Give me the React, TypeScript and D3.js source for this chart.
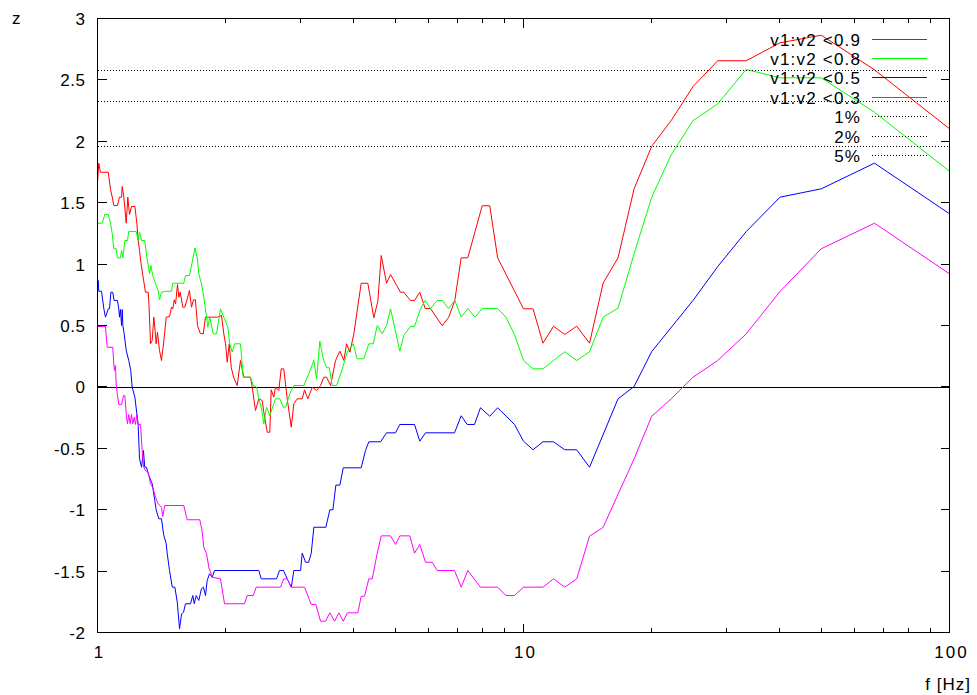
import React from "react";
import * as d3 from "d3";

const W = 977;
const H = 695;
const PLOT = { left: 97.5, right: 949.5, top: 18.5, bottom: 632.5 };

const seriesNames = ["v1:v2 <0.9", "v1:v2 <0.8", "v1:v2 <0.5", "v1:v2 <0.3"];
const seriesColors = ["#ff0000", "#00ff00", "#0000ff", "#ff00ff"];
const levelNames = ["1%", "2%", "5%"];
const levelValues = [2.576, 2.326, 1.96];
const yTickValues = [-2, -1.5, -1, -0.5, 0, 0.5, 1, 1.5, 2, 2.5, 3];
const xMajorTicks = [1, 10, 100];
const xMinorTicks = [2, 3, 4, 5, 6, 7, 8, 9, 20, 30, 40, 50, 60, 70, 80, 90];

// [frequency Hz, z]
const red: [number, number][] = [
  [1.0, 1.667], [1.007, 1.822], [1.016, 1.748], [1.06, 1.748], [1.073, 1.605], [1.083, 1.545],
  [1.092, 1.477], [1.114, 1.477], [1.126, 1.545], [1.139, 1.545], [1.143, 1.632], [1.153, 1.545],
  [1.168, 1.333], [1.178, 1.545], [1.189, 1.404], [1.202, 1.469], [1.224, 1.469], [1.237, 1.333],
  [1.246, 1.192], [1.255, 1.111], [1.267, 0.989], [1.278, 0.907], [1.296, 0.771], [1.315, 0.771],
  [1.32, 0.69], [1.332, 0.351], [1.344, 0.378], [1.356, 0.568], [1.363, 0.486], [1.373, 0.351],
  [1.383, 0.445], [1.398, 0.296], [1.413, 0.215], [1.429, 0.351], [1.45, 0.568], [1.476, 0.573],
  [1.492, 0.649], [1.502, 0.636], [1.514, 0.709], [1.525, 0.677], [1.541, 0.834], [1.552, 0.73],
  [1.564, 0.771], [1.586, 0.649], [1.603, 0.649], [1.624, 0.717], [1.644, 0.785], [1.662, 0.649],
  [1.68, 0.709], [1.698, 0.709], [1.717, 0.5], [1.742, 0.437], [1.771, 0.432], [1.793, 0.568],
  [1.91, 0.568], [1.955, 0.581], [1.979, 0.432], [1.998, 0.351], [2.016, 0.201], [2.038, 0.351],
  [2.06, 0.16], [2.089, 0.074], [2.128, 0.011], [2.166, 0.215], [2.205, 0.079], [2.286, 0.079],
  [2.308, -0.002], [2.349, -0.192], [2.391, -0.097], [2.436, -0.111], [2.457, -0.206], [2.503, -0.369],
  [2.538, -0.369], [2.557, -0.024], [2.593, -0.084], [2.617, -0.002], [2.664, -0.029], [2.699, 0.147],
  [2.737, 0.147], [2.788, -0.097], [2.85, -0.328], [2.89, -0.138], [2.944, -0.097], [3.024, -0.097],
  [3.062, -0.024], [3.117, -0.097], [3.193, -0.002], [3.268, -0.029], [3.339, 0.011], [3.399, 0.079],
  [3.449, 0.079], [3.525, 0.011], [3.621, 0.215], [3.706, 0.291], [3.787, 0.215], [3.843, 0.351],
  [3.912, 0.283], [3.996, 0.427], [4.07, 0.622], [4.159, 0.844], [4.311, 0.844], [4.453, 0.563],
  [4.551, 0.698], [4.635, 1.07], [4.77, 0.844], [4.874, 0.915], [5.144, 0.771], [5.236, 0.771],
  [5.429, 0.704], [5.548, 0.704], [5.709, 0.771], [5.878, 0.638], [6.049, 0.638], [6.444, 0.498],
  [6.678, 0.568], [6.898, 0.704], [7.141, 1.051], [7.4, 1.051], [8.0, 1.475], [8.333, 1.475],
  [8.696, 1.051], [10.0, 0.636], [10.53, 0.636], [11.11, 0.356], [11.76, 0.494], [12.5, 0.427],
  [13.33, 0.494], [14.29, 0.356], [15.38, 0.846], [16.67, 1.051], [18.18, 1.613], [20.0, 1.96],
  [22.22, 2.169], [25.0, 2.446], [28.57, 2.656], [33.33, 2.656], [40.0, 2.802], [50.0, 2.864],
  [66.67, 2.582], [100.0, 2.102],
];

const green: [number, number][] = [
  [1.0, 1.333], [1.026, 1.333], [1.04, 1.404], [1.06, 1.404], [1.073, 1.333], [1.083, 1.247],
  [1.092, 1.125], [1.106, 1.125], [1.114, 1.051], [1.132, 1.051], [1.139, 1.111], [1.147, 1.051],
  [1.159, 1.192], [1.176, 1.192], [1.184, 1.265], [1.233, 1.265], [1.246, 1.192], [1.255, 1.26],
  [1.269, 1.192], [1.291, 1.192], [1.306, 1.056], [1.325, 0.921], [1.334, 0.989], [1.348, 0.907],
  [1.368, 0.84], [1.388, 0.785], [1.398, 0.709], [1.413, 0.771], [1.444, 0.779], [1.492, 0.779],
  [1.502, 0.844], [1.594, 0.844], [1.609, 0.907], [1.644, 0.907], [1.694, 1.131], [1.715, 1.05],
  [1.729, 0.921], [1.754, 0.84], [1.776, 0.73], [1.803, 0.568], [1.815, 0.486], [1.835, 0.568],
  [1.869, 0.432], [1.903, 0.432], [1.944, 0.636], [1.979, 0.568], [2.023, 0.486], [2.044, 0.351],
  [2.071, 0.283], [2.097, 0.351], [2.166, 0.351], [2.198, 0.079], [2.286, 0.079], [2.32, 0.011],
  [2.362, -0.002], [2.391, -0.097], [2.423, -0.165], [2.457, -0.3], [2.493, -0.165], [2.538, -0.233],
  [2.617, -0.097], [2.679, -0.097], [2.729, -0.165], [2.763, -0.165], [2.828, -0.056], [2.89, 0.011],
  [3.051, 0.011], [3.134, 0.107], [3.22, 0.215], [3.268, 0.066], [3.326, 0.372], [3.388, 0.229],
  [3.449, 0.156], [3.5, 0.156], [3.557, 0.011], [3.641, 0.011], [3.755, 0.147], [3.858, 0.283],
  [3.983, 0.351], [4.07, 0.229], [4.218, 0.229], [4.334, 0.351], [4.439, 0.351], [4.536, 0.5],
  [4.66, 0.432], [4.77, 0.5], [4.874, 0.636], [5.124, 0.291], [5.236, 0.419], [5.429, 0.492],
  [5.548, 0.492], [5.731, 0.636], [5.878, 0.704], [6.049, 0.638], [6.272, 0.704], [6.454, 0.704],
  [6.667, 0.638], [6.898, 0.704], [7.141, 0.568], [7.4, 0.638], [7.692, 0.568], [8.0, 0.638],
  [8.696, 0.638], [9.091, 0.568], [9.524, 0.427], [10.0, 0.215], [10.53, 0.147], [11.11, 0.147],
  [11.76, 0.215], [12.5, 0.286], [13.33, 0.215], [14.29, 0.286], [15.38, 0.568], [16.67, 0.641],
  [18.18, 1.084], [20.0, 1.545], [22.22, 1.89], [25.0, 2.169], [28.57, 2.305], [33.33, 2.585],
  [40.0, 2.517], [50.0, 2.517], [66.67, 2.237], [100.0, 1.756],
];

const blue: [number, number][] = [
  [1.0, 0.84], [1.004, 0.866], [1.007, 0.779], [1.022, 0.779], [1.035, 0.636], [1.044, 0.568],
  [1.06, 0.636], [1.067, 0.636], [1.075, 0.771], [1.086, 0.771], [1.094, 0.704], [1.114, 0.704],
  [1.122, 0.636], [1.126, 0.568], [1.132, 0.63], [1.139, 0.5], [1.143, 0.63], [1.147, 0.5],
  [1.155, 0.432], [1.168, 0.296], [1.184, 0.215], [1.197, 0.134], [1.206, -0.002], [1.224, -0.084],
  [1.237, -0.219], [1.246, -0.314], [1.255, -0.586], [1.269, -0.654], [1.282, -0.518], [1.291, -0.654],
  [1.303, -0.654], [1.32, -0.722], [1.344, -0.789], [1.363, -0.925], [1.373, -1.001], [1.393, -1.074],
  [1.413, -1.074], [1.431, -1.21], [1.45, -1.278], [1.458, -1.359], [1.476, -1.495], [1.498, -1.631],
  [1.519, -1.631], [1.539, -1.753], [1.558, -1.97], [1.575, -1.848], [1.592, -1.835], [1.609, -1.766],
  [1.653, -1.766], [1.674, -1.699], [1.687, -1.766], [1.705, -1.699], [1.729, -1.739], [1.754, -1.644],
  [1.773, -1.631], [1.793, -1.699], [1.809, -1.577], [1.832, -1.522], [1.859, -1.55], [1.882, -1.495],
  [2.391, -1.495], [2.423, -1.563], [2.632, -1.563], [2.675, -1.495], [2.733, -1.495], [2.788, -1.563],
  [2.85, -1.631], [2.89, -1.495], [2.997, -1.495], [3.024, -1.354], [3.079, -1.428], [3.13, -1.428],
  [3.175, -1.354], [3.22, -1.143], [3.436, -1.143], [3.511, -1.001], [3.569, -1.001], [3.627, -0.8],
  [3.706, -0.8], [3.775, -0.659], [4.159, -0.659], [4.257, -0.518], [4.334, -0.447], [4.618, -0.447],
  [4.77, -0.374], [5.007, -0.374], [5.124, -0.306], [5.548, -0.306], [5.709, -0.442], [5.888, -0.374],
  [6.887, -0.374], [7.141, -0.235], [7.376, -0.306], [7.673, -0.306], [7.925, -0.17], [8.333, -0.239],
  [8.696, -0.17], [9.524, -0.306], [10.0, -0.442], [10.53, -0.512], [11.11, -0.447], [11.76, -0.447],
  [12.5, -0.512], [13.33, -0.512], [14.29, -0.654], [16.67, -0.097], [18.18, 0.003], [20.0, 0.288],
  [25.0, 0.704], [28.57, 0.98], [33.33, 1.265], [40.0, 1.545], [50.0, 1.613], [66.67, 1.822],
  [100.0, 1.41],
];

const magenta: [number, number][] = [
  [1.0, 0.492], [1.044, 0.492], [1.054, 0.323], [1.086, 0.323], [1.092, 0.188], [1.096, 0.134],
  [1.102, 0.174], [1.106, 0.025], [1.114, -0.07], [1.122, -0.143], [1.139, -0.143], [1.151, -0.07],
  [1.159, -0.07], [1.168, -0.219], [1.176, -0.3], [1.184, -0.225], [1.193, -0.3], [1.202, -0.225],
  [1.21, -0.3], [1.22, -0.247], [1.228, -0.306], [1.237, -0.225], [1.246, -0.306], [1.262, -0.306],
  [1.273, -0.518], [1.284, -0.654], [1.296, -0.681], [1.315, -0.695], [1.332, -0.789], [1.348, -0.817],
  [1.368, -0.898], [1.388, -0.952], [1.413, -0.98], [1.423, -1.055], [1.439, -0.966], [1.594, -0.966],
  [1.624, -1.082], [1.738, -1.082], [1.76, -1.169], [1.776, -1.305], [1.803, -1.359], [1.825, -1.468],
  [1.859, -1.55], [1.944, -1.563], [1.987, -1.766], [2.214, -1.766], [2.246, -1.699], [2.32, -1.699],
  [2.358, -1.631], [2.689, -1.631], [2.737, -1.563], [2.788, -1.563], [2.85, -1.631], [3.062, -1.631],
  [3.175, -1.772], [3.255, -1.772], [3.339, -1.908], [3.431, -1.908], [3.511, -1.84], [3.602, -1.908],
  [3.686, -1.84], [3.775, -1.908], [3.858, -1.84], [4.084, -1.84], [4.159, -1.705], [4.234, -1.705],
  [4.334, -1.563], [4.415, -1.563], [4.536, -1.354], [4.635, -1.213], [4.874, -1.213], [5.007, -1.283],
  [5.124, -1.213], [5.409, -1.213], [5.548, -1.354], [5.709, -1.283], [5.888, -1.428], [6.105, -1.428],
  [6.272, -1.495], [6.887, -1.495], [7.141, -1.631], [7.4, -1.495], [7.925, -1.631], [8.696, -1.631],
  [9.091, -1.699], [9.524, -1.699], [10.0, -1.631], [11.11, -1.631], [11.76, -1.563], [12.5, -1.631],
  [13.33, -1.563], [14.29, -1.216], [15.38, -1.143], [18.18, -0.586], [20.0, -0.239], [22.22, -0.097],
  [25.0, 0.079], [28.57, 0.215], [33.33, 0.432], [40.0, 0.777], [50.0, 1.125], [66.67, 1.333],
  [100.0, 0.921],
];

const seriesData = [red, green, blue, magenta];

const FONT = "'Liberation Sans', Arial, Helvetica, sans-serif";
const FS = 17;

export default function App() {
  const x = d3.scaleLog().domain([1, 100]).range([PLOT.left, PLOT.right]);
  const y = d3.scaleLinear().domain([-2, 3]).range([PLOT.bottom, PLOT.top]);
  const line = d3
    .line<[number, number]>()
    .x((d) => x(d[0]))
    .y((d) => y(d[1]));

  const majorLen = 9;
  const minorLen = 4.5;
  const legendTextX = 860;
  const legendLineX0 = 872;
  const legendLineX1 = 927;
  const legendY0 = 38.5;
  const legendDY = 19.4;
  const lsLegend = 1.2;
  const lsTick = 0.6;
  const lsX = 2;

  return (
    <svg
      width={W}
      height={H}
      viewBox={`0 0 ${W} ${H}`}
      style={{ position: "absolute", left: 0, top: 0, background: "#fff" }}
      fontFamily={FONT}
      fontSize={FS}
    >
      <rect x={0} y={0} width={W} height={H} fill="#fff" />
      {/* zero axis */}
      <line x1={PLOT.left} x2={PLOT.right} y1={Math.round(y(0)) + 0.5} y2={Math.round(y(0)) + 0.5} stroke="#000" strokeWidth={1} shapeRendering="crispEdges" />
      {/* y ticks */}
      {yTickValues.map((v) => {
        const yy = Math.round(y(v) - 0.5) + 0.5;
        return (
          <g key={"yt" + v}>
            <line x1={PLOT.left} x2={PLOT.left + majorLen} y1={yy} y2={yy} stroke="#000" shapeRendering="crispEdges" />
            <line x1={PLOT.right} x2={PLOT.right - majorLen} y1={yy} y2={yy} stroke="#000" shapeRendering="crispEdges" />
            <text x={85 + lsTick} y={yy + 6} textAnchor="end" fill="#000" letterSpacing={lsTick}>
              {String(v)}
            </text>
          </g>
        );
      })}
      {/* x ticks */}
      {xMajorTicks.map((v) => {
        const xx = Math.round(x(v) - 0.5) + 0.5;
        return (
          <g key={"xt" + v}>
            <line x1={xx} x2={xx} y1={PLOT.bottom} y2={PLOT.bottom - majorLen} stroke="#000" shapeRendering="crispEdges" />
            <line x1={xx} x2={xx} y1={PLOT.top} y2={PLOT.top + majorLen} stroke="#000" shapeRendering="crispEdges" />
            <text x={xx + 1 + lsX / 2} y={658} textAnchor="middle" fill="#000" letterSpacing={lsX}>
              {String(v)}
            </text>
          </g>
        );
      })}
      {xMinorTicks.map((v) => {
        const xx = Math.round(x(v) - 0.5) + 0.5;
        return (
          <g key={"xm" + v}>
            <line x1={xx} x2={xx} y1={PLOT.bottom} y2={PLOT.bottom - minorLen} stroke="#000" shapeRendering="crispEdges" />
            <line x1={xx} x2={xx} y1={PLOT.top} y2={PLOT.top + minorLen} stroke="#000" shapeRendering="crispEdges" />
          </g>
        );
      })}
      {/* axis labels */}
      <text x={12} y={24} fill="#000">z</text>
      <text x={971} y={690} textAnchor="end" fill="#000" letterSpacing={1}>f [Hz]</text>

      {/* series */}
      {seriesData.map((s, i) => (
        <path key={"s" + i} d={line(s) || ""} fill="none" stroke={seriesColors[i]} strokeWidth={1} />
      ))}
      {/* significance levels */}
      {levelValues.map((v, i) => {
        const yy = Math.round(y(v) - 0.5) + 0.5;
        return (
          <line key={"lv" + i} x1={PLOT.left} x2={PLOT.right} y1={yy} y2={yy} stroke="#000" strokeWidth={1} strokeDasharray="1 2" shapeRendering="crispEdges" />
        );
      })}

      {/* legend */}
      {seriesNames.map((n, i) => {
        const yy = Math.round(legendY0 + i * legendDY) + 0.5;
        return (
          <g key={"lg" + i}>
            <text x={legendTextX + lsLegend} y={yy + 6} textAnchor="end" fill="#000" letterSpacing={lsLegend}>{n}</text>
            <line x1={legendLineX0} x2={legendLineX1} y1={yy} y2={yy} stroke={seriesColors[i]} shapeRendering="crispEdges" />
          </g>
        );
      })}
      {levelNames.map((n, i) => {
        const yy = Math.round(legendY0 + (i + 4) * legendDY) + 0.5;
        return (
          <g key={"ll" + i}>
            <text x={legendTextX + lsLegend} y={yy + 6} textAnchor="end" fill="#000" letterSpacing={lsLegend}>{n}</text>
            <line x1={legendLineX0} x2={legendLineX1} y1={yy} y2={yy} stroke="#000" strokeDasharray="1 2" shapeRendering="crispEdges" />
          </g>
        );
      })}

      {/* border */}
      <rect x={PLOT.left} y={PLOT.top} width={PLOT.right - PLOT.left} height={PLOT.bottom - PLOT.top} fill="none" stroke="#000" strokeWidth={1} shapeRendering="crispEdges" />
    </svg>
  );
}
